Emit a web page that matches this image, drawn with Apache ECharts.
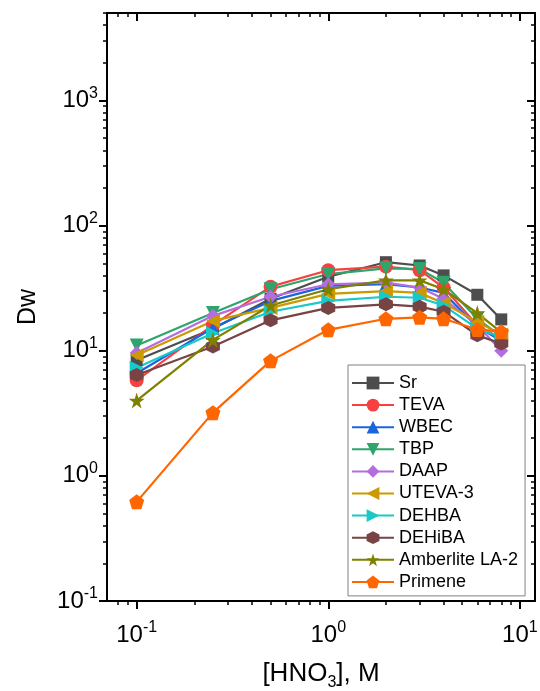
<!DOCTYPE html>
<html>
<head>
<meta charset="utf-8">
<script src="https://cdn.jsdelivr.net/npm/echarts@6/dist/echarts.min.js"></script>
<style>
  html, body { margin: 0; padding: 0; background: #ffffff; }
  #chart { width: 540px; height: 691px; }
</style>
</head>
<body>
<div id="chart"></div>
<script>
// HNO3 concentration (M) at which each distribution ratio was measured
const concentrations = [0.1, 0.25, 0.5, 1, 2, 3, 4, 6, 8];

// Dw values per resin / extractant
const sr        = [8.4, 15.0, 26.0, 39.0, 51.0, 48.0, 40.0, 28.0, 17.8];
const teva      = [5.8, 16.0, 32.5, 44.0, 47.0, 44.0, 32.0, 16.0, 12.5];
const wbec      = [6.6, 15.2, 25.0, 33.0, 34.0, 32.0, 29.0, 15.5, 12.0];
const tbp       = [11.0, 20.0, 31.0, 41.0, 45.5, 45.0, 35.0, 18.0, 13.0];
const daap      = [9.6, 19.0, 27.0, 34.0, 35.0, 32.0, 26.0, 16.0, 10.0];
const uteva3    = [9.2, 17.3, 22.0, 28.5, 30.0, 29.0, 24.0, 17.0, 13.5];
const dehba     = [7.3, 13.8, 20.5, 25.0, 27.0, 26.5, 23.0, 15.0, 12.8];
const dehiba    = [6.4, 10.8, 17.5, 22.0, 23.5, 22.5, 20.5, 13.3, 11.4];
const amberlite = [4.0, 12.2, 23.0, 31.0, 36.5, 36.5, 31.0, 20.0, 14.0];
const primene   = [0.62, 3.2, 8.3, 14.7, 18.0, 18.5, 18.0, 14.8, 14.2];

const seriesNames = ['Sr', 'TEVA', 'WBEC', 'TBP', 'DAAP', 'UTEVA-3', 'DEHBA', 'DEHiBA', 'Amberlite LA-2', 'Primene'];
const seriesValues = [sr, teva, wbec, tbp, daap, uteva3, dehba, dehiba, amberlite, primene];

// Tick positions on the logarithmic axes
const xMajorTicks = [0.1, 1, 10];
const xMinorTicks = [0.08, 0.09, 0.2, 0.3, 0.4, 0.5, 0.6, 0.7, 0.8, 0.9, 2, 3, 4, 5, 6, 7, 8, 9];
const yMajorTicks = [0.1, 1, 10, 100, 1000];
const yMinorTicks = [0.2, 0.3, 0.4, 0.5, 0.6, 0.7, 0.8, 0.9,
                     2, 3, 4, 5, 6, 7, 8, 9,
                     20, 30, 40, 50, 60, 70, 80, 90,
                     200, 300, 400, 500, 600, 700, 800, 900,
                     2000, 3000, 4000, 5000];

const FONT = '"Liberation Sans", Arial, sans-serif';

// Marker shapes
const SYM_DOWN = 'path://M0,0 L10,0 L5,8.66 Z';
const SYM_LEFT = 'path://M8.66,0 L8.66,10 L0,5 Z';
const SYM_RIGHT = 'path://M0,0 L8.66,5 L0,10 Z';
const SYM_HEX = 'path://M50,0 L93.3,25 L93.3,75 L50,100 L6.7,75 L6.7,25 Z';
const SYM_STAR = 'path://M50,0 L61.2,34.5 L97.6,34.5 L68.2,55.9 L79.4,90.5 L50,69.1 L20.6,90.5 L31.8,55.9 L2.4,34.5 L38.8,34.5 Z';
const SYM_PENT = 'path://M50,0 L97.6,34.5 L79.4,90.5 L20.6,90.5 L2.4,34.5 Z';

const styles = [
  { color: '#4d4d4d', symbol: 'rect',     size: 12 },
  { color: '#f5413f', symbol: 'circle',   size: 14 },
  { color: '#1b64dc', symbol: 'triangle', size: 13 },
  { color: '#2ea56c', symbol: SYM_DOWN,   size: 14 },
  { color: '#b46ddd', symbol: 'diamond',  size: 14 },
  { color: '#cc9900', symbol: SYM_LEFT,   size: 14 },
  { color: '#19c9c9', symbol: SYM_RIGHT,  size: 14 },
  { color: '#774343', symbol: SYM_HEX,    size: 14 },
  { color: '#808000', symbol: SYM_STAR,   size: 16 },
  { color: '#ff6600', symbol: SYM_PENT,   size: 15 }
];

function powLabel(v) {
  const e = Math.round(Math.log10(v));
  return '{b|10}{s|' + e + '}';
}
const powRich = {
  b: { fontFamily: FONT, fontSize: 24, color: '#000', lineHeight: 30 },
  s: { fontFamily: FONT, fontSize: 16, color: '#000', verticalAlign: 'top', lineHeight: 16 }
};

const axisLineStyle = { color: '#000', width: 2 };

function logAxis(base, extra) {
  return Object.assign({
    type: 'log',
    logBase: 10,
    gridIndex: 0,
    splitLine: { show: false },
    minorTick: { show: false },
    minorSplitLine: { show: false },
    axisLine: { show: false, onZero: false },
    axisLabel: { show: false },
    axisTick: { show: false }
  }, base, extra);
}

const xRange = { min: 0.07, max: 12 };
const yRange = { min: 0.1, max: 5000 };

const xAxes = [
  logAxis(xRange, {
    position: 'bottom',
    axisLine: { show: true, onZero: false, lineStyle: axisLineStyle },
    axisTick: { show: true, inside: false, length: 8, lineStyle: { color: '#000', width: 2 }, customValues: xMajorTicks },
    axisLabel: { show: true, customValues: xMajorTicks, margin: 19, formatter: powLabel, rich: powRich },
    name: '{a|[HNO}{s|3}{a|], M}',
    nameLocation: 'middle',
    nameGap: 60,
    nameTextStyle: {
      rich: {
        a: { fontFamily: FONT, fontSize: 26, color: '#000' },
        s: { fontFamily: FONT, fontSize: 16, color: '#000', verticalAlign: 'bottom', padding: [0, 0, -4, 0] }
      }
    }
  }),
  logAxis(xRange, {
    position: 'bottom',
    axisTick: { show: true, inside: false, length: 4, lineStyle: { color: '#000', width: 1.5 }, customValues: xMinorTicks }
  }),
  logAxis(xRange, {
    position: 'top',
    axisLine: { show: true, onZero: false, lineStyle: axisLineStyle },
    axisTick: { show: true, inside: true, length: 8, lineStyle: { color: '#000', width: 2 }, customValues: xMajorTicks }
  }),
  logAxis(xRange, {
    position: 'top',
    axisTick: { show: true, inside: true, length: 4, lineStyle: { color: '#000', width: 1.5 }, customValues: xMinorTicks }
  })
];

const yAxes = [
  logAxis(yRange, {
    position: 'left',
    axisLine: { show: true, onZero: false, lineStyle: axisLineStyle },
    axisTick: { show: true, inside: false, length: 8, lineStyle: { color: '#000', width: 2 }, customValues: yMajorTicks },
    axisLabel: { show: true, customValues: yMajorTicks, margin: 9, formatter: powLabel, rich: powRich },
    name: 'Dw',
    nameLocation: 'middle',
    nameGap: 66,
    nameTextStyle: { fontFamily: FONT, fontSize: 25, color: '#000' }
  }),
  logAxis(yRange, {
    position: 'left',
    axisTick: { show: true, inside: false, length: 4, lineStyle: { color: '#000', width: 1.5 }, customValues: yMinorTicks }
  }),
  logAxis(yRange, {
    position: 'right',
    axisLine: { show: true, onZero: false, lineStyle: axisLineStyle },
    axisTick: { show: true, inside: true, length: 8, lineStyle: { color: '#000', width: 2 }, customValues: yMajorTicks }
  }),
  logAxis(yRange, {
    position: 'right',
    axisTick: { show: true, inside: true, length: 4, lineStyle: { color: '#000', width: 1.5 }, customValues: yMinorTicks }
  })
];

const series = seriesNames.map((name, i) => ({
  name: name,
  type: 'line',
  xAxisIndex: 0,
  yAxisIndex: 0,
  data: concentrations.map((c, j) => [c, seriesValues[i][j]]),
  symbol: styles[i].symbol,
  symbolSize: styles[i].size,
  showAllSymbol: true,
  lineStyle: { color: styles[i].color, width: 2.2 },
  itemStyle: { color: styles[i].color },
  emphasis: { disabled: true },
  animation: false
}));

const chart = echarts.init(document.getElementById('chart'), null, { renderer: 'canvas' });
chart.setOption({
  backgroundColor: '#ffffff',
  animation: false,
  grid: { left: 107, right: 5, top: 13, bottom: 90, containLabel: false, outerBoundsMode: 'none' },
  xAxis: xAxes,
  yAxis: yAxes,
  legend: {
    orient: 'vertical',
    left: 348,
    top: 365,
    padding: [9, 7, 5, 3],
    itemWidth: 42,
    itemHeight: 16,
    itemGap: 4.1,
    backgroundColor: '#ffffff',
    borderColor: '#808080',
    borderWidth: 1,
    textStyle: { fontFamily: FONT, fontSize: 18, color: '#000' },
    selectedMode: false,
    data: seriesNames
  },
  series: series
});
</script>
</body>
</html>
